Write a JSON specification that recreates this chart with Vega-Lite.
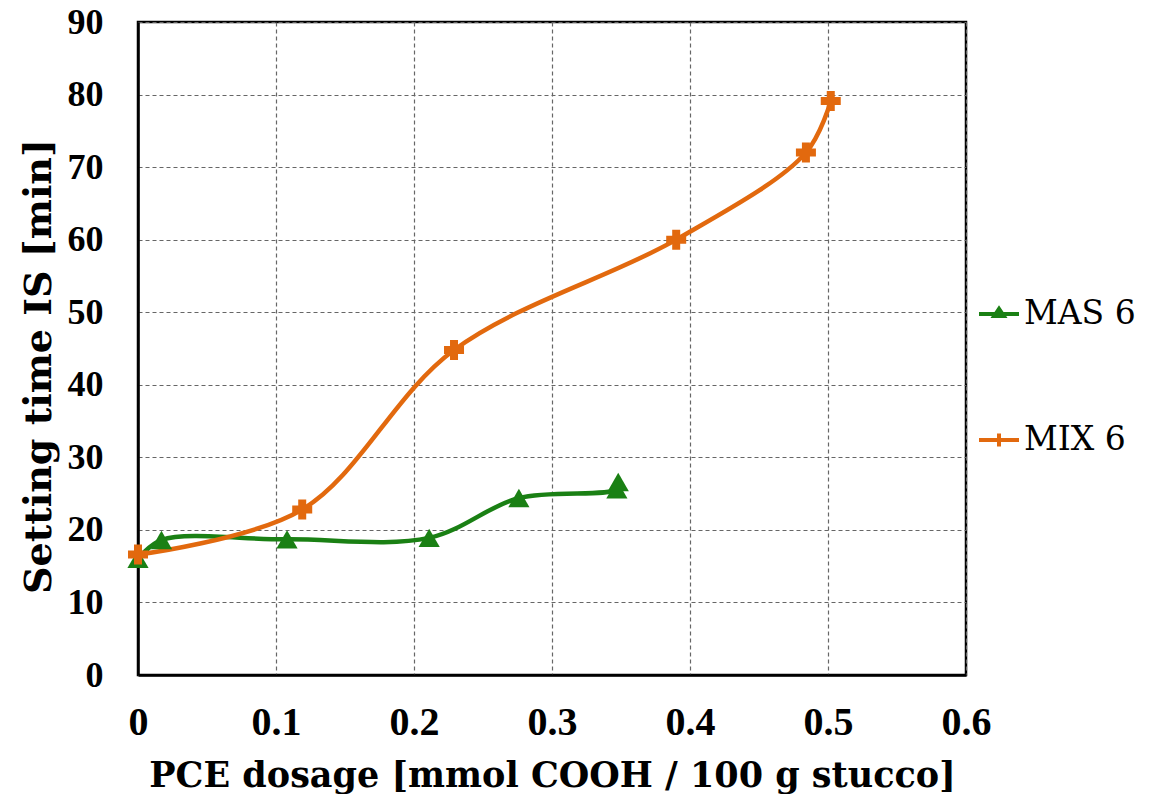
{
  "$schema": "https://vega.github.io/schema/vega-lite/v6.json",
  "autosize": "none",
  "width": 828,
  "height": 653,
  "padding": {"left": 138, "top": 22, "right": 194, "bottom": 119},
  "background": "white",
  "config": {
    "view": {"stroke": "black", "strokeWidth": 2.5},
    "axis": {
      "grid": true,
      "gridColor": "#666666",
      "gridDash": [4, 3],
      "gridWidth": 1.2,
      "domainColor": "black",
      "domainWidth": 2.5,
      "ticks": false,
      "labelColor": "black",
      "titleColor": "black"
    },
    "legend": {
      "orient": "none",
      "legendX": 839,
      "legendY": 270,
      "padding": 0,
      "symbolOpacity": 1,
      "symbolStrokeWidth": 4,
      "symbolSize": 1600,
      "rowPadding": 87,
      "labelOffset": 3,
      "labelFont": "DejaVu Serif",
      "labelFontSize": 33,
      "labelColor": "black",
      "labelLimit": 300
    }
  },
  "data": {
    "values": [
      {"dose": 0, "time": 16.0, "series": "MAS 6"},
      {"dose": 0.017, "time": 18.6, "series": "MAS 6"},
      {"dose": 0.108, "time": 18.7, "series": "MAS 6"},
      {"dose": 0.211, "time": 18.9, "series": "MAS 6"},
      {"dose": 0.276, "time": 24.4, "series": "MAS 6"},
      {"dose": 0.347, "time": 25.6, "series": "MAS 6"},
      {"dose": 0.348, "time": 26.6, "series": "MAS 6"},
      {"dose": 0, "time": 16.6, "series": "MIX 6"},
      {"dose": 0.119, "time": 22.8, "series": "MIX 6"},
      {"dose": 0.229, "time": 44.8, "series": "MIX 6"},
      {"dose": 0.39, "time": 60.0, "series": "MIX 6"},
      {"dose": 0.484, "time": 72.0, "series": "MIX 6"},
      {"dose": 0.502, "time": 79.1, "series": "MIX 6"}
    ]
  },
  "encoding": {
    "x": {
      "field": "dose", "type": "quantitative",
      "scale": {"domain": [0, 0.6], "nice": false},
      "axis": {
        "values": [0, 0.1, 0.2, 0.3, 0.4, 0.5, 0.6],
        "format": "~g",
        "title": "PCE dosage [mmol COOH / 100 g stucco]",
        "labelFont": "Liberation Serif", "labelFontWeight": "bold", "labelFontSize": 40,
        "labelPadding": 27, "labelFlush": false, "labelOverlap": false,
        "titleFont": "DejaVu Serif", "titleFontWeight": "bold", "titleFontSize": 35,
        "titleBaseline": "alphabetic", "titleY": 111
      }
    },
    "y": {
      "field": "time", "type": "quantitative",
      "scale": {"domain": [0, 90], "nice": false},
      "axis": {
        "values": [0, 10, 20, 30, 40, 50, 60, 70, 80, 90],
        "title": "Setting time IS [min]",
        "labelFont": "Liberation Serif", "labelFontWeight": "bold", "labelFontSize": 36,
        "labelPadding": 35,
        "titleFont": "DejaVu Serif", "titleFontWeight": "bold", "titleFontSize": 38,
        "titleAngle": -90, "titleBaseline": "alphabetic", "titleX": -88, "titleY": 344
      }
    },
    "color": {
      "field": "series", "type": "nominal",
      "scale": {"domain": ["MAS 6", "MIX 6"], "range": ["#1a8014", "#e2690e"]},
      "legend": {"title": null}
    }
  },
  "layer": [
    {
      "mark": {"type": "line", "interpolate": "catmull-rom", "strokeWidth": 4.5}
    },
    {
      "transform": [{"filter": "datum.series == 'MAS 6'"}],
      "mark": {"type": "point", "filled": true, "opacity": 1, "size": 450, "strokeWidth": 1, "shape": "triangle-up"}
    },
    {
      "transform": [{"filter": "datum.series == 'MIX 6'"}],
      "mark": {"type": "point", "filled": true, "opacity": 1, "size": 400, "strokeWidth": 1, "shape": "cross"}
    },
    {
      "mark": {"type": "point", "filled": false, "opacity": 0, "size": 1600, "strokeWidth": 4},
      "encoding": {
        "shape": {
          "field": "series", "type": "nominal",
          "scale": {"domain": ["MAS 6", "MIX 6"], "range": ["M-1,0H1M-0.24,0.1L0,-0.26L0.24,0.1Z", "M-1,0H1M0,-0.32V0.32"]},
          "legend": {"title": null}
        }
      }
    }
  ]
}
